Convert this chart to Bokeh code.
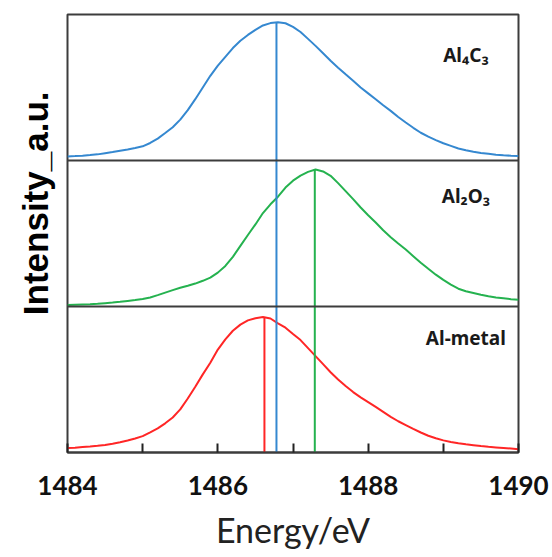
import numpy as np
from bokeh.plotting import figure
from bokeh.models import Range1d, FixedTicker, Span, Title
from bokeh.core.properties import value
from bokeh.embed import file_html
from bokeh.resources import INLINE

# Energy grid of the Al K-alpha spectra (eV)
energy = np.round(np.arange(1484.0, 1490.05, 0.1), 1)

# Normalised intensities, one panel per sample
al4c3 = [0.028, 0.030, 0.033, 0.037, 0.042, 0.050, 0.058, 0.067, 0.076, 0.086,
         0.097, 0.120, 0.150, 0.188, 0.228, 0.280, 0.345, 0.420, 0.500, 0.580,
         0.650, 0.710, 0.770, 0.820, 0.860, 0.895, 0.925, 0.941, 0.947, 0.940,
         0.915, 0.880, 0.833, 0.785, 0.735, 0.683, 0.636, 0.590, 0.546, 0.500,
         0.460, 0.420, 0.378, 0.340, 0.298, 0.260, 0.224, 0.190, 0.163, 0.140,
         0.118, 0.100, 0.082, 0.070, 0.060, 0.052, 0.046, 0.040, 0.036, 0.033,
         0.031]
al2o3 = [0.010, 0.012, 0.014, 0.016, 0.019, 0.023, 0.027, 0.032, 0.038, 0.044,
         0.051, 0.062, 0.078, 0.095, 0.112, 0.128, 0.142, 0.157, 0.176, 0.198,
         0.232, 0.278, 0.340, 0.415, 0.490, 0.562, 0.640, 0.700, 0.752, 0.815,
         0.862, 0.896, 0.922, 0.938, 0.925, 0.895, 0.845, 0.790, 0.735, 0.678,
         0.625, 0.575, 0.522, 0.475, 0.432, 0.390, 0.345, 0.300, 0.258, 0.218,
         0.182, 0.150, 0.122, 0.104, 0.092, 0.080, 0.070, 0.062, 0.056, 0.050,
         0.046]
al_metal = [0.030, 0.033, 0.037, 0.041, 0.046, 0.052, 0.060, 0.070, 0.082, 0.096,
            0.112, 0.138, 0.165, 0.200, 0.240, 0.295, 0.370, 0.450, 0.535, 0.615,
            0.705, 0.775, 0.834, 0.876, 0.905, 0.920, 0.928, 0.918, 0.885, 0.855,
            0.812, 0.770, 0.715, 0.660, 0.605, 0.550, 0.500, 0.455, 0.414, 0.378,
            0.345, 0.312, 0.278, 0.244, 0.214, 0.188, 0.162, 0.137, 0.115, 0.098,
            0.083, 0.072, 0.063, 0.056, 0.050, 0.044, 0.039, 0.035, 0.031, 0.027,
            0.023]

samples = ["Al\u2084C\u2083", "Al\u2082O\u2083", "Al-metal"]
series = [al4c3, al2o3, al_metal]
peak_energy = [1486.78, 1487.29, 1486.62]
colors = ["#3588D0", "#25B24F", "#FF2626"]
panel_offset = [2, 1, 0]
label_height = [0.725, 0.757, 0.785]

x_ticks = [1484, 1485, 1486, 1487, 1488, 1489, 1490]
x_labels = {1484: "1484", 1485: "", 1486: "1486", 1487: "",
            1488: "1488", 1489: "", 1490: "1490"}

frame_col = "#3c3c3c"

p = figure(width=552, height=557, output_backend="svg", toolbar_location=None,
           x_range=Range1d(1484, 1490), y_range=Range1d(0, 3),
           y_axis_location=None,
           min_border_left=67, min_border_right=34,
           min_border_top=14, min_border_bottom=105)
p.grid.visible = False
p.outline_line_color = frame_col
p.outline_line_width = 2
p.background_fill_color = "white"
p.border_fill_color = "white"

xa = p.xaxis[0]
xa.ticker = FixedTicker(ticks=x_ticks)
xa.major_label_overrides = x_labels
xa.major_tick_in = 9
xa.major_tick_out = 0
xa.minor_tick_in = 0
xa.minor_tick_out = 0
xa.axis_line_color = frame_col
xa.axis_line_width = 2
xa.major_tick_line_color = "#222222"
xa.major_tick_line_width = 2
xa.major_label_text_font = "Lato"
xa.major_label_text_font_style = "bold"
xa.major_label_text_font_size = "26px"
xa.major_label_text_color = "#111111"
xa.major_label_standoff = 23
xa.axis_label = "Energy/eV"
xa.axis_label_text_font = "Lato"
xa.axis_label_text_font_style = "normal"
xa.axis_label_text_font_size = "34px"
xa.axis_label_text_color = "#222222"
xa.axis_label_standoff = 11

# vertical axis title, set on the left side (its end placed from the top)
p.add_layout(Title(text="Intensity_a.u.", align="right", offset=77,
                   text_font="Liberation Sans", text_font_style="bold",
                   text_font_size="35px", text_color="#000000",
                   standoff=26), "left")

# panel separators
for level in (1, 2):
    p.add_layout(Span(location=level, dimension="width",
                      line_color=frame_col, line_width=2))

# stacked spectra
for vals, off, col in zip(series, panel_offset, colors):
    p.line(energy, np.asarray(vals) + off, line_color=col, line_width=2)

# peak-position markers, from each peak maximum down to the energy axis
tops = [max(v) + off for v, off in zip(series, panel_offset)]
p.segment(x0=peak_energy, y0=[0, 0, 0], x1=peak_energy, y1=tops,
          line_color=colors, line_width=2)

# sample names
label_x = [1489.3] * 3
label_y = [h + off for h, off in zip(label_height, panel_offset)]
p.text(x=label_x, y=label_y, text=samples,
       text_font=value("Noto Sans"), text_font_style="bold",
       text_font_size="19px", text_align="center", text_baseline="middle",
       text_color="#1a1a1a")

open("out.html", "w").write(file_html(p, INLINE))
